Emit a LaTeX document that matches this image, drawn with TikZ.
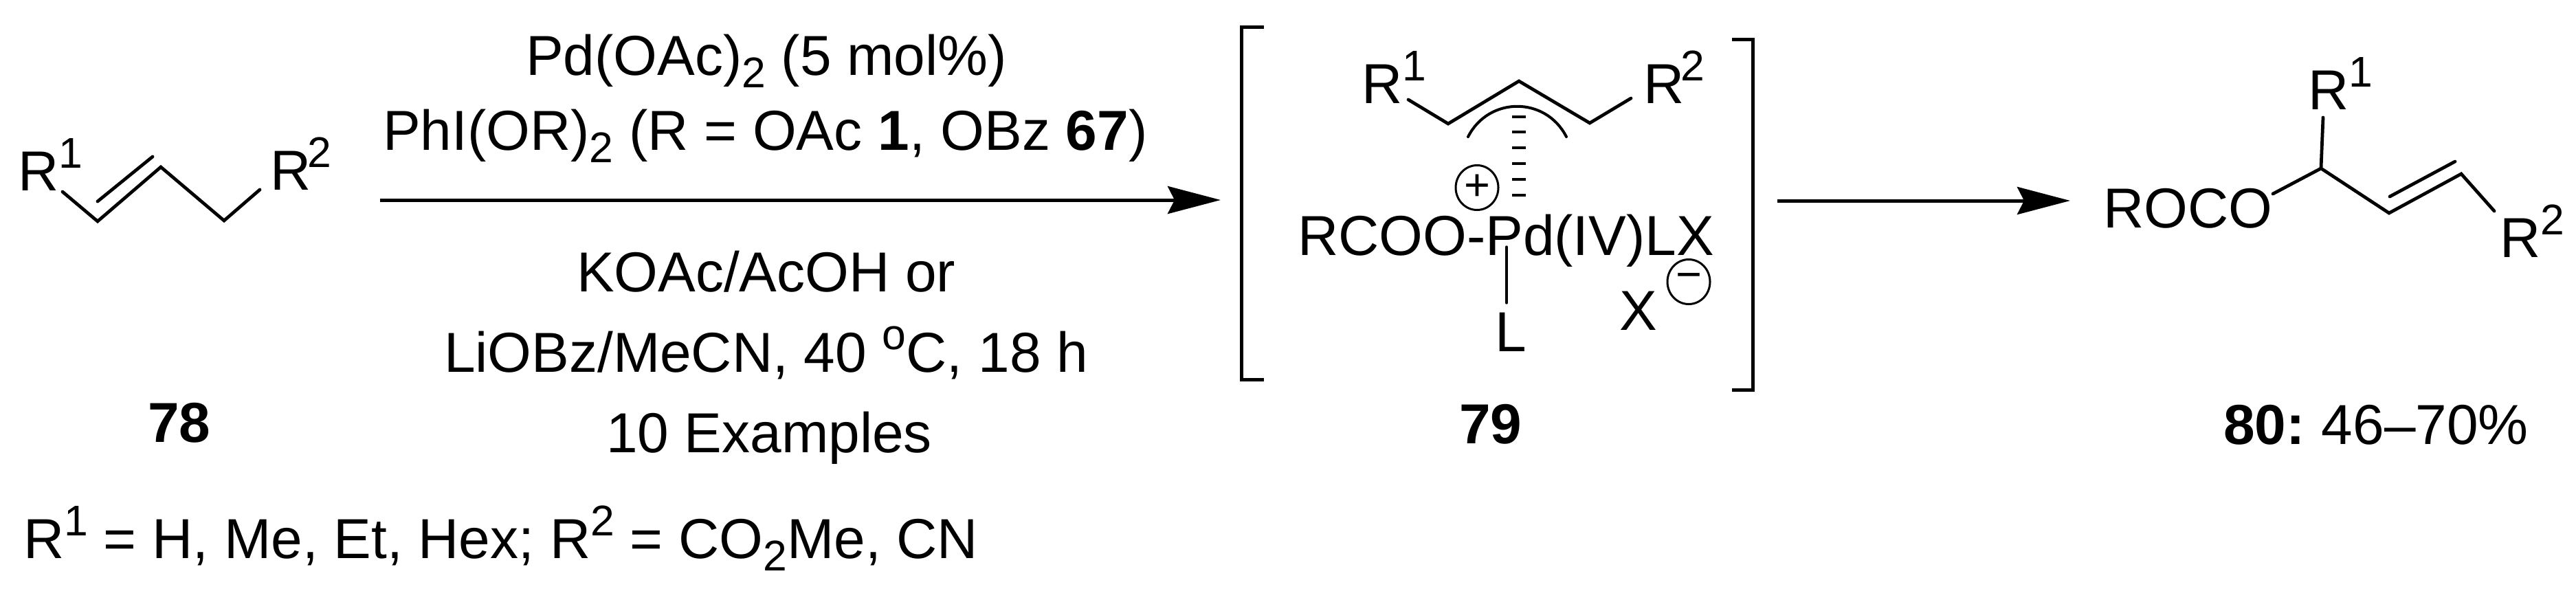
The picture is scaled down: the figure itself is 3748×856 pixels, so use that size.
\documentclass[tikz,border=0pt]{standalone}
\usepackage{fontspec}
\setmainfont{Liberation Sans}
\usetikzlibrary{arrows.meta,shapes.geometric}
\newcommand{\Sp}[1]{\raisebox{6.6pt}{\fontsize{12.5}{14}\selectfont #1}}
\newcommand{\Sb}[1]{\raisebox{-3.6pt}{\fontsize{12.5}{14}\selectfont #1}}
\tikzset{
  txt/.style={anchor=base west,inner sep=0pt,outer sep=0pt,font=\fontsize{16.4}{19}\selectfont},
  bond/.style={line width=0.95pt,line cap=round,line join=miter},
  thinbond/.style={line width=0.65pt,line cap=round},
  brk/.style={line width=1pt,line join=miter},
  rxn/.style={line width=1pt,-{Stealth[length=15.4pt,width=8pt,inset=2pt]}},
  charge/.style={ellipse,draw,line width=0.6pt,inner sep=0pt,minimum width=12.4pt,minimum height=13pt,font=\fontsize{13}{15}\selectfont},
}
\begin{document}
\begin{tikzpicture}[x=0.2pt,y=-0.2pt]
\useasboundingbox (0,0) rectangle (3748,856);
% --- 78
\coordinate (a1) at (91,279);
\coordinate (a2) at (142,322);
\coordinate (a3) at (234,243);
\coordinate (a4) at (326,321);
\coordinate (a5) at (378,276);
\coordinate (a6) at (142,293);
\coordinate (a7) at (222,228);
\draw[bond] (a1) -- (a2) -- (a3) -- (a4) -- (a5);
\draw[bond] (a6) -- (a7);
\node[txt] (r1a) at (26,277) {R\Sp{1}};
\node[txt] (r2a) at (393,276) {R\kern-1pt\Sp{2}};
\node[txt,font=\fontsize{16.4}{19}\selectfont\bfseries] (n78) at (215,643) {78};
\node[txt] (subs) at (34,812) {R\Sp{1} = H, Me, Et, Hex; R\Sp{2} = CO\Sb{2}Me, CN};
% --- reagents
\node[txt] (c1) at (765,109) {Pd(OAc)\Sb{2} (5 mol\%)};
\node[txt] (c2) at (557,218) {PhI(OR)\Sb{2} (R = OAc \textbf{1}, OBz \textbf{67})};
\node[txt] (c3) at (839,424) {KOAc/AcOH or};
\node[txt] (c4) at (646,541) {LiOBz/MeCN, 40 \Sp{o}C, 18 h};
\node[txt] (c5) at (882,658) {10 Examples};
\coordinate (ar1s) at (553,291);
\coordinate (ar1e) at (1776,291);
\draw[rxn] (ar1s) -- (ar1e);
% --- 79
\coordinate (lb1) at (1839,39);
\coordinate (lb2) at (1806,39);
\coordinate (lb3) at (1806,552);
\coordinate (lb4) at (1839,552);
\draw[brk] (lb1) -- (lb2) -- (lb3) -- (lb4);
\coordinate (rb1) at (2520,57);
\coordinate (rb2) at (2550,57);
\coordinate (rb3) at (2550,567);
\coordinate (rb4) at (2520,567);
\draw[brk] (rb1) -- (rb2) -- (rb3) -- (rb4);
\coordinate (b1) at (2049,145);
\coordinate (b2) at (2107,180);
\coordinate (b3) at (2210,118);
\coordinate (b4) at (2313,179);
\coordinate (b5) at (2373,143);
\draw[bond] (b1) -- (b2) -- (b3) -- (b4) -- (b5);
\coordinate (arcs) at (2136,199);
\coordinate (arce) at (2279,199);
\draw[bond,line width=0.8pt] (arcs) .. controls (2166,140) and (2249,140) .. (arce);
\foreach \yy/\nm in {170/h1,192/h2,215/h3,238/h4,261/h5,284/h6}{
  \coordinate (\nm l) at (2200,\yy);
  \coordinate (\nm r) at (2220,\yy);
  \draw[line width=0.85pt] (\nm l) -- (\nm r);
}
\node[txt] (r1b) at (1981,150) {R\Sp{1}};
\node[txt] (r2b) at (2391,150) {R\kern-1pt\Sp{2}};
\node[charge] (plus) at (2149,273) {+};
\node[txt] (pd) at (1888,371) {RCOO-Pd(IV)LX};
\coordinate (pdl1) at (2192,359);
\coordinate (pdl2) at (2192,441);
\draw[thinbond] (pdl1) -- (pdl2);
\node[txt] (lig) at (2175,511) {L};
\node[txt] (xm) at (2356,480) {X};
\node[charge] (minus) at (2457,410) {−};
\node[txt,font=\fontsize{16.4}{19}\selectfont\bfseries] (n79) at (2123,645) {79};
\coordinate (ar2s) at (2586,292);
\coordinate (ar2e) at (3012,292);
\draw[rxn] (ar2s) -- (ar2e);
% --- 80
\node[txt] (roco) at (3060,331) {ROCO};
\coordinate (d1) at (3307,282);
\coordinate (d2) at (3377,245);
\coordinate (d3) at (3380,171);
\coordinate (d4) at (3476,310);
\coordinate (d5) at (3581,253);
\coordinate (d6) at (3629,307);
\coordinate (d7) at (3477,286);
\coordinate (d8) at (3572,235);
\draw[bond] (d1) -- (d2) -- (d4) -- (d5) -- (d6);
\draw[bond] (d2) -- (d3);
\draw[bond] (d7) -- (d8);
\node[txt] (r1c) at (3358,159) {R\Sp{1}};
\node[txt] (r2c) at (3637,374) {R\Sp{2}};
\node[txt] (n80) at (3235,646) {\textbf{80:}\kern-1.2pt{} 46–70\%};
\end{tikzpicture}
\end{document}
